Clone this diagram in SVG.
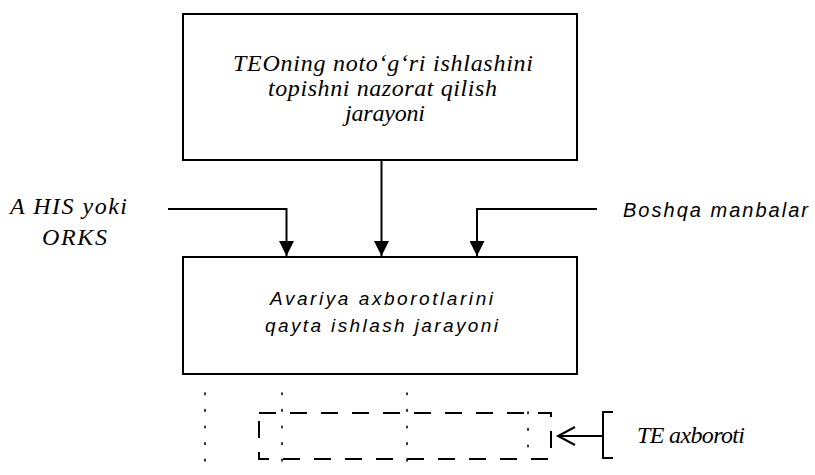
<svg xmlns="http://www.w3.org/2000/svg" width="815" height="475" viewBox="0 0 815 475">
<style>
.box{fill:#fff;stroke:#000;stroke-width:2}
.ln{fill:none;stroke:#000;stroke-width:2}
.dot{fill:none;stroke:#000;stroke-width:1.6;stroke-dasharray:1.6 15;stroke-linecap:round}
.dash{fill:none;stroke:#000;stroke-width:2;stroke-dasharray:17 14}
.serif{font-family:'Liberation Serif','Times New Roman','DejaVu Serif',serif;font-style:italic;font-size:24px;fill:#000}
.sans{font-family:'Liberation Sans',Arial,sans-serif;font-style:italic;fill:#000}
</style>
<defs>
<marker id="ah" viewBox="0 0 10 10" refX="10" refY="5" markerWidth="15" markerHeight="15" markerUnits="userSpaceOnUse" orient="auto">
<path d="M0,0 L10,5 L0,10 Z" fill="#000"/>
</marker>
</defs>
<g id="node-top">
<rect class="box" x="183" y="14" width="394" height="146"/>
<text class="serif" x="233" y="71" textLength="300" lengthAdjust="spacing">TEOning  noto‘g‘ri ishlashini</text>
<text class="serif" x="268" y="96" textLength="229" lengthAdjust="spacing">topishni nazorat qilish</text>
<text class="serif" x="345" y="121" textLength="80" lengthAdjust="spacing">jarayoni</text>
</g>
<g id="node-bottom">
<rect class="box" x="183" y="257" width="394" height="117"/>
<text class="sans" font-size="19" x="270" y="305" textLength="223" lengthAdjust="spacing">Avariya  axborotlarini</text>
<text class="sans" font-size="19" x="265" y="332" textLength="233" lengthAdjust="spacing">qayta  ishlash  jarayoni</text>
</g>
<g id="node-ahis">
<text class="serif" x="10" y="214" textLength="117" lengthAdjust="spacing">A HIS yoki</text>
<text class="serif" x="42" y="245" textLength="65" lengthAdjust="spacing">ORKS</text>
</g>
<g id="node-boshqa">
<text class="sans" font-size="20" x="623" y="217" textLength="185" lengthAdjust="spacing">Boshqa  manbalar</text>
</g>
<g id="node-te">
<rect class="dash" x="259" y="413" width="292" height="46"/>
<text class="serif" x="637" y="443" textLength="108" lengthAdjust="spacing">TE axboroti</text>
<path class="ln" d="M613,412 H603 V458 H613"/>
</g>
<g id="connectors">
<path class="ln" d="M381.5,160 V256" marker-end="url(#ah)"/>
<path class="ln" d="M168,209 H286.5 V256" marker-end="url(#ah)"/>
<path class="ln" d="M597,209 H477 V256" marker-end="url(#ah)"/>
<path class="ln" d="M603,436 H558"/>
<path class="ln" d="M575,427 L558,436 L575,445"/>
<path class="dot" d="M205,393 V475"/>
<path class="dot" d="M282,393 V475"/>
<path class="dot" d="M407,393 V475"/>
<path class="dot" d="M528,412 V450"/>
</g>
</svg>
